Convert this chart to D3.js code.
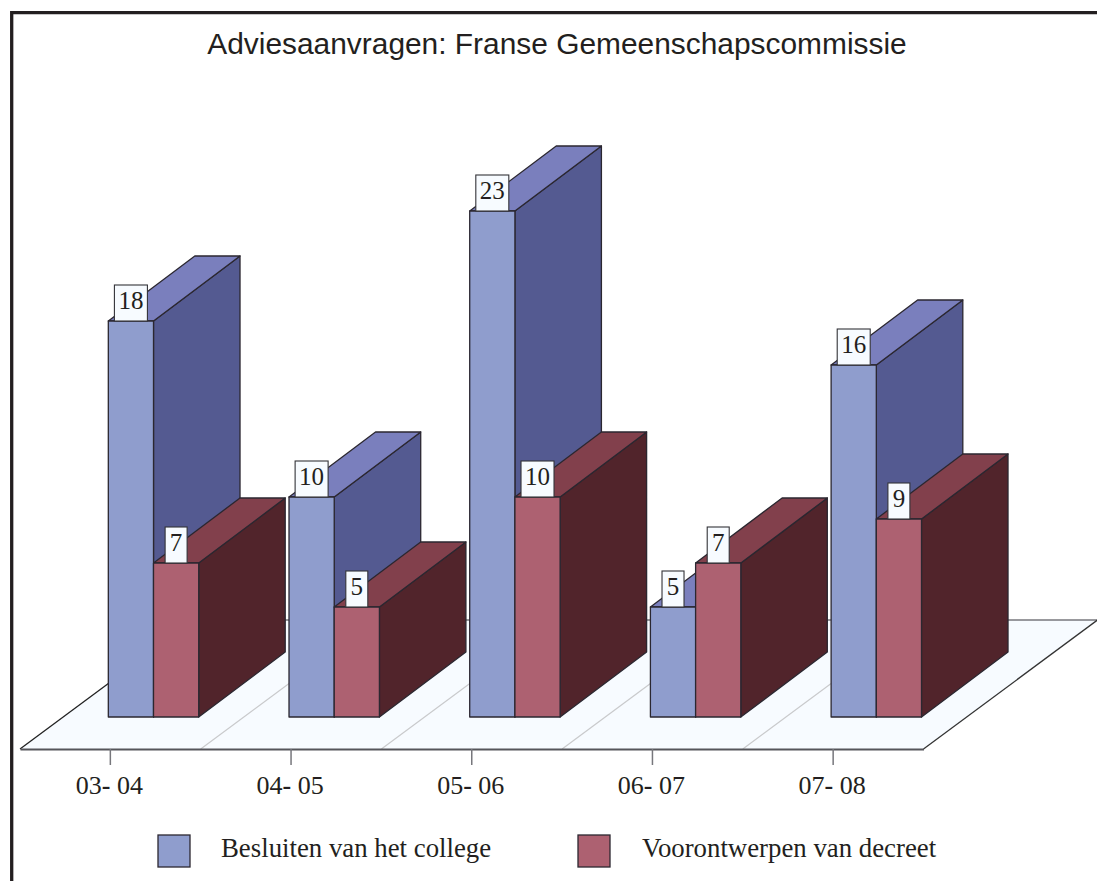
<!DOCTYPE html>
<html><head><meta charset="utf-8">
<script src="https://cdn.jsdelivr.net/npm/d3@7"></script>
<style>html,body{margin:0;padding:0;background:#fff}svg{display:block}</style>
</head><body><svg id="c" width="1097" height="881"></svg>
<script>
const categories = ["03- 04","04- 05","05- 06","06- 07","07- 08"];
const seriesNames = ["Besluiten van het college","Voorontwerpen van decreet"];
const besluiten = [18,10,23,5,16];
const voorontwerpen = [7,5,10,7,9];
const titleText = "Adviesaanvragen: Franse Gemeenschapscommissie";
const palette = [
  {front:"#8f9dcd",top:"#7a7fbd",side:"#545a91"},
  {front:"#ad6171",top:"#82404c",side:"#51242b"}
];
const svg = d3.select("#c");
const serif = "'Liberation Serif',serif", sans = "'Liberation Sans',sans-serif";
const ink = "#2b2730";

const frontY = 749, backY = 620, floorDX = 174, floorDY = frontY-backY;
const x = d3.scaleBand().domain(categories).range([20,923.5]);
const y = d3.scaleLinear().domain([0,23]).range([717,211]);
const inset = (frontY-y(0))*floorDX/floorDY;
const depthX = 86.5, depthY = 65, barW = 45.2;

// frame
svg.append("path").attr("d","M11.7,881V12.7H1097").attr("fill","none").attr("stroke","#231f20").attr("stroke-width",3.3);

// title
svg.append("text").attr("x",557).attr("y",54).attr("text-anchor","middle")
  .attr("font-family",sans).attr("font-size",29.9).attr("fill","#231f20").text(titleText);

// floor
const L=x.range()[0], R=x.range()[1];
svg.append("path").attr("d",`M${L},${frontY}L${R},${frontY}L${R+floorDX},${backY}L${L+floorDX},${backY}Z`)
  .attr("fill","#f7fbff").attr("stroke","none");
svg.selectAll("line.grid").data(categories.slice(1)).join("line").attr("class","grid")
  .attr("x1",d=>x(d)).attr("y1",frontY).attr("x2",d=>x(d)+floorDX).attr("y2",backY)
  .attr("stroke","#c9cacc").attr("stroke-width",1.2);
svg.append("path").attr("d",`M${L+floorDX},${backY}H${R+floorDX}`).attr("stroke","#77777c").attr("stroke-width",1.3).attr("fill","none");
svg.append("path").attr("d",`M${R+floorDX},${backY}L${R},${frontY}`).attr("stroke","#333").attr("stroke-width",1.3).attr("fill","none");
svg.append("path").attr("d",`M${L+floorDX},${backY}L${L},${frontY}`).attr("stroke","#222").attr("stroke-width",1.3).attr("fill","none");

// axis
const axis = d3.axisBottom(x).tickSize(16).tickSizeOuter(0);
const ag = svg.append("g").attr("transform",`translate(0,${frontY})`).call(axis);
ag.select(".domain").attr("stroke","#55555a").attr("stroke-width",1.8);
ag.selectAll(".tick line").attr("stroke","#77777c").attr("stroke-width",1.5);
const tickText = ag.selectAll(".tick text").attr("font-family",serif).attr("font-size",26).attr("fill","#231f20").attr("y",27).attr("dy","0.71em").attr("dx",-1);
tickText.text(null).each(function(d){
  const parts = d.split("-"), t = d3.select(this);
  t.append("tspan").text(parts[0]);
  t.append("tspan").attr("font-weight","bold").text("-");
  t.append("tspan").text(parts[1]);
});

// bars
const rows = categories.map((c,i)=>({c,vals:[besluiten[i],voorontwerpen[i]]}));
const barX = (c,s)=> x(c)+inset+x.bandwidth()/2-barW+s*barW;
rows.forEach(r=>{
  r.vals.forEach((v,s)=>{
    const x0=barX(r.c,s), x1=x0+barW, y0=y(0), yt=y(v), p=palette[s];
    const g=svg.append("g").attr("stroke",ink).attr("stroke-width",1.3).attr("stroke-linejoin","round");
    g.append("path").attr("fill",p.side).attr("d",`M${x1},${y0}L${x1+depthX},${y0-depthY}V${yt-depthY}L${x1},${yt}Z`);
    g.append("path").attr("fill",p.top).attr("d",`M${x0},${yt}L${x0+depthX},${yt-depthY}H${x1+depthX}L${x1},${yt}Z`);
    g.append("rect").attr("fill",p.front).attr("x",x0).attr("y",yt).attr("width",barW).attr("height",y0-yt);
  });
});

// value labels
rows.forEach(r=>{
  r.vals.forEach((v,s)=>{
    const cx=barX(r.c,s)+barW/2, w=String(v).length>1?33:22, h=36;
    svg.append("rect").attr("x",cx-w/2).attr("y",y(v)-h).attr("width",w).attr("height",h)
      .attr("fill","#f7fbff").attr("stroke","#333338").attr("stroke-width",1.1);
    svg.append("text").attr("x",cx).attr("y",y(v)-12.5).attr("text-anchor","middle")
      .attr("font-family",serif).attr("font-size",25).attr("fill","#231f20").text(v);
  });
});

// legend
const legendSw=d3.scaleOrdinal().domain(seriesNames).range([158,578]);
const legendTx=d3.scaleOrdinal().domain(seriesNames).range([221,642]);
seriesNames.forEach((n,s)=>{
  svg.append("rect").attr("x",legendSw(n)).attr("y",835).attr("width",32).attr("height",32)
    .attr("fill",palette[s].front).attr("stroke",ink).attr("stroke-width",1.3);
  svg.append("text").attr("x",legendTx(n)).attr("y",857).attr("font-family",serif).attr("font-size",26.8)
    .attr("fill","#231f20").text(n);
});
</script></body></html>
